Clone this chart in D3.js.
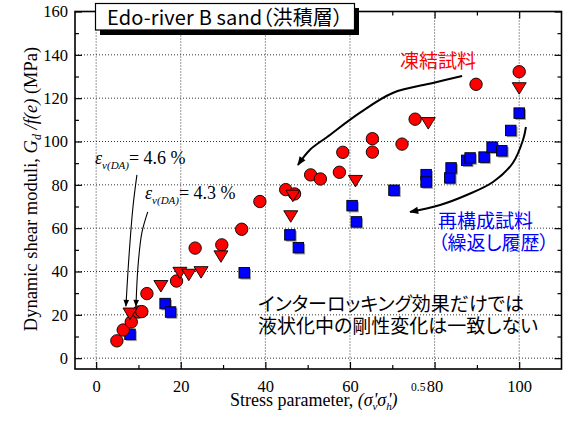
<!DOCTYPE html>
<html><head><meta charset="utf-8">
<script src="https://cdn.jsdelivr.net/npm/d3@7"></script>
<style>
body{margin:0;background:#fff}
svg{display:block}
.jp{font-family:"Noto Sans CJK JP","Noto Sans",sans-serif;font-feature-settings:"palt"}
.tm{font-family:"Liberation Serif","Times New Roman",serif}
</style>
</head><body>
<svg id="chart" width="568" height="423"></svg>
<script>
// ---- data ----
const xTickValues = [0, 20, 40, 60, 80, 100];
const yTickValues = [0, 20, 40, 60, 80, 100, 120, 140, 160];

// Frozen samples (red circles)
const frozenCircleX = [4.9, 6.4, 8.3, 10.0, 10.8, 12.0, 19.0, 23.4, 29.7, 34.4, 38.7, 44.8, 46.9, 50.7, 53.0, 57.5, 58.3, 65.3, 65.3, 72.3, 75.4, 89.8, 100.0];
const frozenCircleY = [8.0, 13.0, 16.7, 21.3, 21.5, 29.8, 35.6, 50.8, 52.3, 59.5, 72.3, 77.8, 75.8, 84.6, 82.7, 85.8, 95.0, 95.1, 101.3, 98.8, 110.3, 126.4, 132.2];

// Frozen samples (red down-triangles)
const frozenTriX = [8.0, 15.3, 19.8, 21.9, 24.8, 29.5, 46.0, 46.5, 61.3, 78.5, 100.0];
const frozenTriY = [20.6, 33.3, 39.4, 38.5, 39.7, 47.0, 65.5, 75.0, 81.8, 108.5, 124.6];

// Reconstituted samples (blue squares)
const reconX = [8.0, 16.3, 17.6, 35.0, 45.8, 47.8, 60.5, 61.5, 70.4, 78.0, 78.0, 83.6, 83.9, 87.6, 88.4, 91.7, 93.6, 95.9, 98.0, 100.0];
const reconY = [11.0, 25.2, 21.3, 39.4, 56.9, 51.0, 70.4, 62.9, 77.5, 84.7, 81.3, 83.2, 87.8, 91.3, 92.4, 92.8, 97.4, 95.7, 105.1, 113.1];

// annotation arrow paths (data units)
const redArrow = [[86.5,130.2],[79.6,127.0],[70.1,122.4],[62.3,113.2],[54.6,102.1],[50.5,96.1],[47.7,89.2]];
const blueArrow = [[101.6,106.7],[100.9,100.7],[98.5,90.1],[93.8,81.3],[87.6,75.3],[81.3,70.7],[74.2,67.5]];
const epsArrow1 = [[9.64,84.6],[8.70,69.8],[7.75,46.7],[7.04,24.0]];
const epsArrow2 = [[12.2,67.5],[10.8,57.8],[9.88,42.1],[9.41,24.0]];

// ---- chart ----
const svg = d3.select("#chart");
const L = 75, R = 561.5, T = 11.5, B = 369;
const x = d3.scaleLinear().domain([-5, 110]).range([L, R]);
const y = d3.scaleLinear().domain([-5, 160]).range([B, T]);

const defs = svg.append("defs");
defs.append("marker").attr("id","ah").attr("viewBox","0 0 10 10").attr("refX",9).attr("refY",5)
  .attr("markerWidth",11).attr("markerHeight",9).attr("markerUnits","userSpaceOnUse").attr("orient","auto")
  .append("path").attr("d","M0,1 L10,5 L0,9 Z").attr("fill","#000");
defs.append("marker").attr("id","ah2").attr("viewBox","0 0 10 10").attr("refX",9).attr("refY",5)
  .attr("markerWidth",8).attr("markerHeight",7).attr("markerUnits","userSpaceOnUse").attr("orient","auto")
  .append("path").attr("d","M0,1 L10,5 L0,9 Z").attr("fill","#000");

// grid
const grid = svg.append("g").attr("stroke","#333").attr("stroke-width",1).attr("stroke-dasharray","1,2");
xTickValues.forEach(v => grid.append("line").attr("x1",x(v)).attr("x2",x(v)).attr("y1",T).attr("y2",B));
yTickValues.filter(v=>v<160).forEach(v => grid.append("line").attr("y1",y(v)).attr("y2",y(v)).attr("x1",L).attr("x2",R));

// axes with inward ticks (major + minor), on all four sides
const minorX = d3.range(10, 110, 20);
const minorY = d3.range(10, 160, 20);
function ticksG(axisGen, tf) { return svg.append("g").attr("transform", tf).call(axisGen); }
ticksG(d3.axisBottom(x).tickValues(xTickValues).tickSizeInner(-7).tickSizeOuter(0).tickPadding(11), `translate(0,${B})`);
ticksG(d3.axisBottom(x).tickValues(minorX).tickSizeInner(-4).tickSizeOuter(0).tickFormat(""), `translate(0,${B})`);
ticksG(d3.axisTop(x).tickValues(xTickValues).tickSizeInner(-7).tickSizeOuter(0).tickFormat(""), `translate(0,${T})`);
ticksG(d3.axisTop(x).tickValues(minorX).tickSizeInner(-4).tickSizeOuter(0).tickFormat(""), `translate(0,${T})`);
ticksG(d3.axisLeft(y).tickValues(yTickValues).tickSizeInner(-7).tickSizeOuter(0).tickPadding(7), `translate(${L},0)`);
ticksG(d3.axisLeft(y).tickValues(minorY).tickSizeInner(-4).tickSizeOuter(0).tickFormat(""), `translate(${L},0)`);
ticksG(d3.axisRight(y).tickValues(yTickValues).tickSizeInner(-7).tickSizeOuter(0).tickFormat(""), `translate(${R},0)`);
ticksG(d3.axisRight(y).tickValues(minorY).tickSizeInner(-4).tickSizeOuter(0).tickFormat(""), `translate(${R},0)`);
svg.selectAll(".domain").remove();
svg.selectAll(".tick line").attr("stroke","#000").attr("stroke-width",1.2);
svg.selectAll(".tick text").attr("font-size",16.5).attr("fill","#000")
  .style("font-family",'"Liberation Serif",serif');

// frame
svg.append("rect").attr("x",L).attr("y",T).attr("width",R-L).attr("height",B-T)
  .attr("fill","none").attr("stroke","#000").attr("stroke-width",1.6);

// markers
const sq = 10.5;
const gSq = svg.append("g");
reconX.forEach((v,i) => {
  gSq.append("rect").attr("x",x(v)-sq/2+1.5).attr("y",y(reconY[i])-sq/2+1.5).attr("width",sq).attr("height",sq).attr("fill","#999");
});
reconX.forEach((v,i) => {
  gSq.append("rect").attr("x",x(v)-sq/2).attr("y",y(reconY[i])-sq/2).attr("width",sq).attr("height",sq)
    .attr("fill","#0000ff").attr("stroke","#000").attr("stroke-width",0.9);
});
const gC = svg.append("g");
frozenCircleX.forEach((v,i) => {
  gC.append("circle").attr("cx",x(v)).attr("cy",y(frozenCircleY[i])).attr("r",6.2)
    .attr("fill","#ff0000").attr("stroke","#000").attr("stroke-width",0.9);
});
const gT = svg.append("g");
frozenTriX.forEach((v,i) => {
  const cx = x(v), cy = y(frozenTriY[i]);
  gT.append("path").attr("d",`M${cx-7},${cy-5.5} L${cx+7},${cy-5.5} L${cx},${cy+6} Z`)
    .attr("fill","#ff0000").attr("stroke","#000").attr("stroke-width",0.9).attr("stroke-linejoin","round");
});

// arrows
const ln = d3.line().x(d=>x(d[0])).y(d=>y(d[1])).curve(d3.curveCatmullRom);
svg.append("path").attr("d",ln(redArrow)).attr("fill","none").attr("stroke","#000").attr("stroke-width",2).attr("marker-end","url(#ah)");
svg.append("path").attr("d",ln(blueArrow)).attr("fill","none").attr("stroke","#000").attr("stroke-width",2).attr("marker-end","url(#ah)");
svg.append("path").attr("d",ln(epsArrow1)).attr("fill","none").attr("stroke","#000").attr("stroke-width",1.1).attr("marker-end","url(#ah2)");
svg.append("path").attr("d",ln(epsArrow2)).attr("fill","none").attr("stroke","#000").attr("stroke-width",1.1).attr("marker-end","url(#ah2)");

// title box
svg.append("rect").attr("x",100).attr("y",8).attr("width",259).attr("height",27).attr("fill","#000");
svg.append("rect").attr("x",95.5).attr("y",3.5).attr("width",259).attr("height",26.5).attr("fill","#fff").attr("stroke","#000").attr("stroke-width",1.2);
svg.append("text").attr("class","jp").attr("x",107).attr("y",24.5).attr("font-size",20).attr("fill","#000")
  .attr("textLength",236).attr("lengthAdjust","spacing")
  .text("Edo-river B sand（洪積層）");

// Japanese annotations
svg.append("text").attr("class","jp").attr("x",400).attr("y",68).attr("font-size",19).attr("fill","#ff0000").text("凍結試料");
svg.append("text").attr("class","jp").attr("x",438).attr("y",228).attr("font-size",19).attr("fill","#0000ff").text("再構成試料");
svg.append("text").attr("class","jp").attr("x",438).attr("y",250).attr("font-size",19).attr("fill","#0000ff").text("（繰返し履歴）");
svg.append("text").attr("class","jp").attr("x",258).attr("y",311).attr("font-size",19).attr("fill","#000").text("インターロッキング効果だけでは");
svg.append("text").attr("class","jp").attr("x",258).attr("y",333).attr("font-size",19).attr("fill","#000").text("液状化中の剛性変化は一致しない");

// epsilon labels
function epsLabel(px, py, val) {
  const t = svg.append("text").attr("class","tm").attr("x",px).attr("y",py).attr("font-size",18).attr("fill","#000");
  t.append("tspan").attr("font-style","italic").text("ε");
  t.append("tspan").attr("font-style","italic").attr("font-size",11).attr("dy",5).text("v(DA)");
  t.append("tspan").attr("dy",-5).text("= " + val + " %");
}
epsLabel(95, 164, "4.6");
epsLabel(145, 199, "4.3");

// axis titles
const yt = svg.append("text").attr("class","tm").attr("transform","translate(37,189) rotate(-90)")
  .attr("text-anchor","middle").attr("font-size",18.5).attr("fill","#000");
yt.append("tspan").text("Dynamic shear moduli, ");
yt.append("tspan").attr("font-style","italic").text("G");
yt.append("tspan").attr("font-style","italic").attr("font-size",12).attr("dy",4).text("d");
yt.append("tspan").attr("font-style","italic").attr("dy",-4).text(" /f(e)");
yt.append("tspan").text(" (MPa)");

const xt = svg.append("text").attr("class","tm").attr("x",230).attr("y",406).attr("font-size",18).attr("fill","#000");
xt.append("tspan").text("Stress parameter, ");
xt.append("tspan").attr("font-style","italic").text("(σ");
xt.append("tspan").attr("font-style","italic").attr("font-size",11).attr("dy",4).text("v");
xt.append("tspan").attr("font-style","italic").attr("dy",-4).attr("dx",-4).text("'σ");
xt.append("tspan").attr("font-style","italic").attr("font-size",11).attr("dy",4).text("h");
xt.append("tspan").attr("font-style","italic").attr("dy",-4).attr("dx",-4).text("')");
svg.append("text").attr("class","tm").attr("x",411).attr("y",391).attr("font-size",11.5).attr("fill","#000").text("0.5");
</script>
</body></html>
